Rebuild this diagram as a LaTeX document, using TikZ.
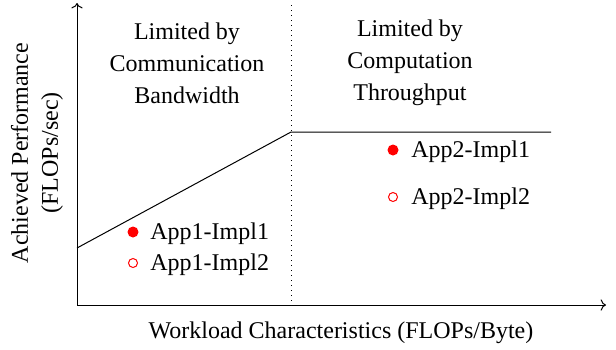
\documentclass[tikz,border=0pt]{standalone}
\usepackage{fontspec}
\setmainfont{Liberation Serif}
\usetikzlibrary{positioning, arrows.meta, calc}

\begin{document}
\begin{tikzpicture}[
	x=0.5pt, y=-0.5pt,
	% --- Styles ---
	axisline/.style={
		draw, ->, line width=0.5pt, color=black
	},
	roofline/.style={
		draw, line width=0.5pt, color=black
	},
	divider/.style={
		draw, dotted, line width=0.5pt, color=black
	},
	regionlabel/.style={
		anchor=base, align=center, font=\fontsize{12}{16}\selectfont, inner sep=0pt
	},
	axislabel/.style={
		align=center, font=\fontsize{12}{15}\selectfont, inner sep=0pt
	},
	implfull/.style={
		circle, fill=red, inner sep=0pt, minimum size=5.5pt
	},
	implopen/.style={
		circle, draw=red, fill=white, line width=0.5pt, inner sep=0pt, minimum size=4.5pt
	},
	impllabel/.style={
		anchor=base west, font=\fontsize{12}{14}\selectfont, inner sep=0pt
	}
	]

	\useasboundingbox (0,0) rectangle (616,349);

	% --- 1. Axes ---
	\coordinate (origin) at (77,305);
	\coordinate (ytop) at (77,3);
	\coordinate (xend) at (606,305);
	\draw [axisline] (origin) -- (ytop);
	\draw [axisline] (origin) -- (xend);

	% --- 2. Split between the two regimes ---
	\coordinate (split_top) at (291,5);
	\coordinate (split_bot) at (291,305);
	\draw [divider] (split_top) -- (split_bot);

	% --- 3. Roofline ---
	\coordinate (roof_start) at (77,248);
	\coordinate (ridge) at (291,132);
	\coordinate (roof_end) at (551,132);
	\draw [roofline] (roof_start) -- (ridge) -- (roof_end);

	% --- 4. Region titles (anchored on the last baseline) ---
	\node [regionlabel] (bw_label) at (187,103) {Limited by\\Communication\\Bandwidth};
	\node [regionlabel] (cp_label) at (410,100) {Limited by\\Computation\\Throughput};

	% --- 5. Implementations ---
	\node [implfull] (app1_i1) at (133,232) {};
	\node [implopen] (app1_i2) at (133,263) {};
	\node [implfull] (app2_i1) at (393,150) {};
	\node [implopen] (app2_i2) at (393,197) {};

	\node [impllabel] (app1_i1_txt) at (150,239) {App1-Impl1};
	\node [impllabel] (app1_i2_txt) at (150,270) {App1-Impl2};
	\node [impllabel] (app2_i1_txt) at (411,157) {App2-Impl1};
	\node [impllabel] (app2_i2_txt) at (411,204) {App2-Impl2};

	% --- 6. Axis titles ---
	\node [axislabel, rotate=90] (ylabel) at (37,153) {Achieved Performance\\(FLOPs/sec)};
	\node [axislabel] (xlabel) at (341,333) {Workload Characteristics (FLOPs/Byte)};

\end{tikzpicture}
\end{document}
